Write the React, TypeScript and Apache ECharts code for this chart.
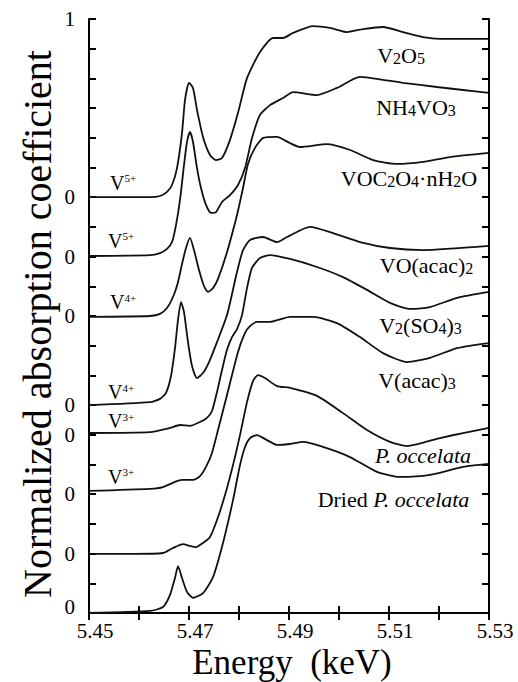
import React, { useEffect, useRef } from "react";
import * as echarts from "echarts";

const FONT = "Liberation Serif";

// y axis runs in tick units (0..20); each spectrum sits on its own "0" tick
const yTickLabels: Record<number, string> = { 0: "0", 2: "0", 4: "0", 6: "0", 7: "0", 10: "0", 12: "0", 14: "0", 20: "1" };
const xLabelValues = [5.45, 5.47, 5.49, 5.51, 5.53];

// [energy keV, plotted value]
const v2o5: [number, number][] = [
  [5.45, 14.0], [5.4622, 14.0], [5.4642, 14.04], [5.4656, 14.18], [5.4666, 14.41], [5.4676, 14.98],
  [5.4686, 16.16], [5.4692, 17.27], [5.47, 17.85], [5.4708, 17.68], [5.4716, 16.94], [5.4728, 16.03],
  [5.4742, 15.42], [5.4754, 15.25], [5.4766, 15.32], [5.4782, 15.93], [5.4798, 16.84], [5.4816, 18.01],
  [5.4842, 18.89], [5.4868, 19.36], [5.4888, 19.36], [5.4908, 19.53], [5.4948, 19.76], [5.4982, 19.7],
  [5.5016, 19.56], [5.5048, 19.66], [5.5088, 19.73], [5.5128, 19.56], [5.5168, 19.39], [5.5202, 19.33],
  [5.53, 19.33],
];
const nh4vo3: [number, number][] = [
  [5.45, 12.02], [5.4622, 12.05], [5.4642, 12.12], [5.4656, 12.26], [5.4666, 12.49], [5.4674, 13.06],
  [5.4682, 13.91], [5.469, 15.08], [5.4696, 15.86], [5.4702, 16.2], [5.4708, 15.86], [5.4716, 14.98],
  [5.4724, 14.31], [5.4734, 13.74], [5.4744, 13.47], [5.4754, 13.5], [5.4766, 13.84], [5.4782, 14.07],
  [5.4798, 14.41], [5.4812, 14.98], [5.4826, 15.99], [5.4842, 16.77], [5.4862, 17.1], [5.4888, 17.34],
  [5.4908, 17.54], [5.4956, 17.44], [5.4996, 17.68], [5.5042, 18.05], [5.5088, 17.95], [5.5128, 17.85],
  [5.5196, 17.71], [5.5248, 17.61], [5.53, 17.51],
];
const voc2o4: [number, number][] = [
  [5.45, 9.97], [5.4622, 10.0], [5.4642, 10.07], [5.4656, 10.27], [5.4668, 10.64], [5.4678, 11.14],
  [5.4686, 11.75], [5.4694, 12.29], [5.4702, 12.63], [5.471, 12.22], [5.472, 11.55], [5.473, 11.01],
  [5.4738, 10.81], [5.4748, 10.94], [5.4758, 11.25], [5.4776, 12.15], [5.4796, 13.4], [5.4808, 14.31],
  [5.4818, 15.12], [5.4832, 15.66], [5.4848, 15.99], [5.4876, 16.03], [5.4902, 15.82], [5.4922, 15.69],
  [5.4976, 15.79], [5.5022, 15.59], [5.5068, 15.25], [5.5116, 15.12], [5.5168, 15.19], [5.5222, 15.35],
  [5.53, 15.49],
];
const voacac2: [number, number][] = [
  [5.45, 7.0], [5.4622, 7.1], [5.4642, 7.21], [5.4654, 7.41], [5.4664, 7.98], [5.4672, 8.92],
  [5.4678, 9.87], [5.4684, 10.47], [5.469, 10.13], [5.4698, 9.12], [5.4706, 8.32], [5.4716, 7.91],
  [5.4728, 8.08], [5.474, 8.45], [5.4756, 9.12], [5.4776, 10.03], [5.4796, 11.48], [5.4808, 12.22],
  [5.4822, 12.56], [5.4848, 12.66], [5.4876, 12.49], [5.4896, 12.66], [5.4942, 13.0], [5.4988, 12.79],
  [5.5042, 12.49], [5.5102, 12.29], [5.5168, 12.22], [5.53, 12.36],
];
const v2so43: [number, number][] = [
  [5.45, 6.06], [5.4622, 6.09], [5.4662, 6.23], [5.4682, 6.33], [5.4702, 6.3], [5.4722, 6.43],
  [5.4736, 6.57], [5.4746, 6.8], [5.4756, 7.44], [5.4766, 8.18], [5.4776, 8.86], [5.4786, 9.29],
  [5.4796, 9.56], [5.4806, 10.03], [5.4816, 10.94], [5.4826, 11.62], [5.4842, 11.95], [5.4862, 12.05],
  [5.4902, 11.92], [5.4956, 11.65], [5.5008, 11.31], [5.5056, 10.88], [5.5102, 10.44], [5.5142, 10.24],
  [5.5182, 10.3], [5.5236, 10.61], [5.53, 10.81],
];
const vacac3: [number, number][] = [
  [5.45, 4.11], [5.4622, 4.18], [5.4648, 4.24], [5.4676, 4.44], [5.4688, 4.48], [5.4708, 4.48],
  [5.4722, 4.61], [5.4734, 4.92], [5.4746, 5.39], [5.4758, 6.16], [5.4776, 7.34], [5.4798, 8.79],
  [5.4812, 9.43], [5.4822, 9.66], [5.4836, 9.8], [5.4862, 9.8], [5.4902, 9.97], [5.4948, 9.97],
  [5.4996, 9.76], [5.5042, 9.29], [5.5088, 8.75], [5.5136, 8.45], [5.5182, 8.59], [5.5236, 8.92],
  [5.53, 9.09],
];
const pOccelata: [number, number][] = [
  [5.45, 1.99], [5.4588, 1.99], [5.4648, 2.02], [5.4668, 2.19], [5.4688, 2.32], [5.4702, 2.26],
  [5.4714, 2.22], [5.4728, 2.36], [5.4742, 2.56], [5.4756, 3.13], [5.4772, 3.97], [5.4788, 4.98],
  [5.4802, 5.99], [5.4816, 7.1], [5.4828, 7.81], [5.4838, 8.01], [5.4852, 7.91], [5.4876, 7.64],
  [5.4902, 7.58], [5.4956, 7.31], [5.5008, 6.73], [5.5056, 6.16], [5.5102, 5.76], [5.5136, 5.62],
  [5.5202, 5.89], [5.5248, 6.06], [5.53, 6.23],
];
const driedPOccelata: [number, number][] = [
  [5.45, 0.0], [5.4622, 0.07], [5.4648, 0.2], [5.4662, 0.61], [5.4672, 1.18], [5.4678, 1.58],
  [5.4686, 1.18], [5.4696, 0.71], [5.4708, 0.51], [5.4728, 0.67], [5.4748, 1.21], [5.4768, 2.36],
  [5.4788, 3.8], [5.4802, 4.98], [5.4812, 5.59], [5.4822, 5.89], [5.4836, 5.99], [5.4856, 5.82],
  [5.4876, 5.66], [5.4902, 5.69], [5.4928, 5.76], [5.4968, 5.59], [5.5022, 5.25], [5.5076, 4.75],
  [5.5122, 4.58], [5.5182, 4.65], [5.5248, 4.92], [5.53, 5.02],
];

const seriesNames = ["V2O5", "NH4VO3", "VOC2O4·nH2O", "VO(acac)2", "V2(SO4)3", "V(acac)3", "P. occelata", "Dried P. occelata"];
const seriesData = [v2o5, nh4vo3, voc2o4, voacac2, v2so43, vacac3, pOccelata, driedPOccelata];

// compound labels (rich text), anchored in data coordinates (centre)
const compoundLabels: { text: string; e: number; v: number }[] = [
  { text: "{n|V}{s|2}{n|O}{s|5}", e: 5.5124, v: 18.82 },
  { text: "{n|NH}{s|4}{n|VO}{s|3}", e: 5.5154, v: 17.04 },
  { text: "{n|VOC}{s|2}{n|O}{s|4}{n|·nH}{s|2}{n|O}", e: 5.514, v: 14.68 },
  { text: "{n|VO(acac)}{s|2}", e: 5.5175, v: 11.72 },
  { text: "{n|V}{s|2}{n|(SO}{s|4}{n|)}{s|3}", e: 5.5163, v: 9.73 },
  { text: "{n|V(acac)}{s|3}", e: 5.5156, v: 7.85 },
  { text: "{i|P. occelata}", e: 5.5168, v: 5.32 },
  { text: "{n|Dried }{i|P. occelata}", e: 5.5109, v: 3.87 },
];

// valence labels (left edge anchor)
const valenceLabels: { sup: string; e: number; v: number }[] = [
  { sup: "5+", e: 5.4542, v: 14.48 },
  { sup: "5+", e: 5.4538, v: 12.53 },
  { sup: "4+", e: 5.4542, v: 10.47 },
  { sup: "4+", e: 5.4538, v: 7.44 },
  { sup: "3+", e: 5.4538, v: 6.46 },
  { sup: "3+", e: 5.4538, v: 4.58 },
];

const xTitle = "Energy\u00a0\u00a0(keV)";
const yTitle = "Normalized absorption coefficient";

export default function App() {
  const ref = useRef<HTMLDivElement>(null);
  useEffect(() => {
    if (!ref.current) return;
    const chart = echarts.init(ref.current, undefined, { renderer: "svg" });
    const axisLine = { show: true, lineStyle: { color: "#000", width: 2 } };
    const axisTick = { show: true, inside: true, length: 7, lineStyle: { color: "#000", width: 2 } };
    const option: any = {
      animation: false,
      backgroundColor: "#fff",
      textStyle: { fontFamily: FONT },
      grid: { left: 89, right: 29, top: 19, bottom: 69, containLabel: false },
      xAxis: [
        {
          type: "value", min: 5.45, max: 5.53, interval: 0.01, position: "bottom",
          axisLine, axisTick, splitLine: { show: false },
          axisLabel: {
            color: "#000", fontFamily: FONT, fontSize: 21, lineHeight: 18, margin: 9, padding: [0, 0, 0, 12],
            formatter: (v: number) => {
              const k = Math.round(v * 100);
              return xLabelValues.some((x) => Math.round(x * 100) === k) ? (k / 100).toFixed(2) : "";
            },
          },
        },
        {
          type: "value", min: 5.45, max: 5.53, interval: 0.01, position: "top",
          axisLine, axisTick, splitLine: { show: false }, axisLabel: { show: false },
        },
      ],
      yAxis: [
        {
          type: "value", min: 0, max: 20, interval: 1, position: "left",
          axisLine, axisTick, splitLine: { show: false },
          axisLabel: {
            color: "#000", fontFamily: FONT, fontSize: 21, margin: 14,
            formatter: (v: number) => {
              const k = Math.round(v);
              const t = yTickLabels[k] ?? "";
              if (k === 0) return "{lift|0}";
              return t;
            },
            rich: { lift: { fontFamily: FONT, fontSize: 21, color: "#000", padding: [0, 0, 12, 0] } },
          },
        },
        {
          type: "value", min: 0, max: 20, interval: 1, position: "right",
          axisLine, axisTick, splitLine: { show: false }, axisLabel: { show: false },
        },
      ],
      series: seriesData.map((d, i) => ({
        name: seriesNames[i],
        type: "line",
        data: d,
        xAxisIndex: 0,
        yAxisIndex: 0,
        showSymbol: false,
        smooth: 0.2,
        silent: true,
        lineStyle: { color: "#111", width: 1.8 },
      })),
    };
    chart.setOption(option);

    const rich = {
      n: { fontFamily: FONT, fontSize: 22, lineHeight: 24, color: "#000", verticalAlign: "bottom" },
      s: { fontFamily: FONT, fontSize: 16, lineHeight: 17, color: "#000", verticalAlign: "bottom" },
      i: { fontFamily: FONT, fontSize: 22, lineHeight: 24, color: "#000", fontStyle: "italic", verticalAlign: "bottom" },
    };
    const vRich = {
      v: { fontFamily: FONT, fontSize: 20, lineHeight: 20, color: "#000" },
      p: { fontFamily: FONT, fontSize: 11, lineHeight: 11, color: "#000", verticalAlign: "top" },
    };
    const graphics: any[] = [];
    compoundLabels.forEach((l) => {
      const [x, y] = chart.convertToPixel({ xAxisIndex: 0, yAxisIndex: 0 }, [l.e, l.v]) as number[];
      graphics.push({
        type: "text", x, y, silent: true,
        style: { text: l.text, rich, align: "center", verticalAlign: "middle", fontFamily: FONT, fontSize: 22, fill: "#000" },
      });
    });
    valenceLabels.forEach((l) => {
      const [x, y] = chart.convertToPixel({ xAxisIndex: 0, yAxisIndex: 0 }, [l.e, l.v]) as number[];
      graphics.push({
        type: "text", x, y, silent: true,
        style: { text: `{v|V}{p|${l.sup}}`, rich: vRich, align: "left", verticalAlign: "middle", fontFamily: FONT, fontSize: 20, fill: "#000" },
      });
    });
    graphics.push({
      type: "text", x: 292, y: 662, silent: true,
      style: {
        text: `{t|${xTitle}}`,
        rich: { t: { fontFamily: FONT, fontSize: 35, lineHeight: 30, color: "#000" } },
        align: "center", verticalAlign: "middle", fontFamily: FONT, fontSize: 35, fill: "#000",
      },
    });
    graphics.push({
      type: "text", x: 37, y: 324, rotation: Math.PI / 2, silent: true,
      style: {
        text: `{t|${yTitle}}`,
        rich: { t: { fontFamily: FONT, fontSize: 40, lineHeight: 40, color: "#000" } },
        align: "center", verticalAlign: "middle", fontFamily: FONT, fontSize: 40, fill: "#000",
      },
    });
    chart.setOption({ graphic: graphics });

    return () => chart.dispose();
  }, []);
  return <div ref={ref} style={{ position: "fixed", left: 0, top: 0, width: 518, height: 682, background: "#fff" }} />;
}
